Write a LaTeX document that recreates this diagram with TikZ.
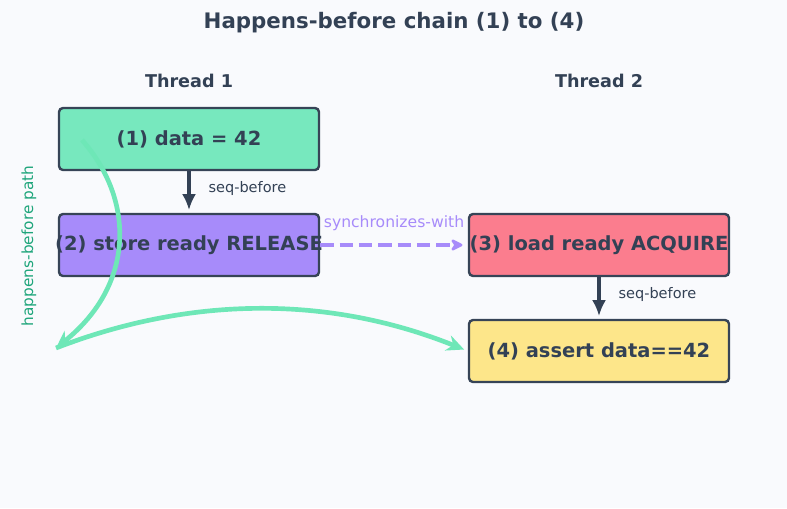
\documentclass[tikz,border=0pt]{standalone}
\usepackage{fontspec}
\setmainfont{DejaVu Sans}
\usetikzlibrary{arrows.meta}
\definecolor{bgc}{HTML}{F9FAFD}
\definecolor{ink}{HTML}{334155}
\definecolor{greenbox}{HTML}{77E8BE}
\definecolor{violetbox}{HTML}{A78BFA}
\definecolor{rosebox}{HTML}{FB7D8E}
\definecolor{amberbox}{HTML}{FDE68A}
\definecolor{hbgreen}{HTML}{6EE7B7}
\definecolor{hbtext}{HTML}{1FA57B}
\newcommand{\boxtext}[1]{\makebox[195pt]{#1}}
\tikzset{
  opbox/.style={draw=ink!95!gray,line width=1.8pt,rounded corners=3pt,minimum height=46.5pt,
    inner xsep=0pt,text=ink,font=\fontsize{14.6}{17}\selectfont\bfseries},
  seqarrow/.style={->,draw=ink,line width=2.6pt},
  seqlabel/.style={midway,right=10pt,yshift=2.5pt,text=ink,font=\fontsize{10.9}{13}\selectfont},
  hbarrow/.style={-{Stealth[length=13pt,width=12pt]},draw=hbgreen,line width=3.5pt},
}
\begin{document}
\begin{tikzpicture}[x=0.75pt,y=-0.75pt,>={Latex[length=12pt,width=10.5pt]}]
  \fill[bgc] (0,0) rectangle (787,508);
  \useasboundingbox (0,0) rectangle (787,508);
  \node[text=ink,font=\fontsize{16}{19}\selectfont\bfseries] (title) at (394,23) {Happens-before chain (1) to (4)};
  \node[text=ink,font=\fontsize{13.2}{16}\selectfont\bfseries] (t1) at (189,81) {Thread 1};
  \node[text=ink,font=\fontsize{13.2}{16}\selectfont\bfseries] (t2) at (599,81) {Thread 2};
  % the four operations
  \node[opbox,fill=greenbox] (op1) at (189,139) {\boxtext{(1) data = 42}};
  \node[opbox,fill=violetbox] (op2) at (189,245) {\boxtext{(2) store ready RELEASE}};
  \node[opbox,fill=rosebox] (op3) at (599,245) {\boxtext{(3) load ready ACQUIRE}};
  \node[opbox,fill=amberbox] (op4) at (599,351) {\boxtext{(4) assert data==42}};
  % program order inside each thread
  \draw[seqarrow,shorten >=2pt] (op1) -- (op2) node[seqlabel] (sb1) {seq-before};
  \draw[seqarrow,shorten >=2pt] (op3) -- (op4) node[seqlabel] (sb2) {seq-before};
  % release/acquire pairing
  \draw[->,violetbox,line width=2.8pt,dash pattern=on 10pt off 4.5pt,shorten >=4pt,>={Stealth[length=11pt,width=11pt,round]}]
    (op2.east) -- (op3.west) node[midway,above=6pt,font=\fontsize{11.7}{14}\selectfont] (sw) {synchronizes-with};
  % happens-before path
  \coordinate (hbstart) at (82,140);
  \coordinate (hbturn) at (56,348);
  \draw[hbarrow] (hbstart) .. controls (135,200) and (135,285) .. (hbturn);
  \draw[hbarrow,shorten >=3pt] (hbturn) .. controls (193,295) and (331,296) .. (op4.west);
  \node[rotate=90,text=hbtext,font=\fontsize{11.5}{14}\selectfont] (hbl) at (29,246) {happens-before path};
\end{tikzpicture}
\end{document}
